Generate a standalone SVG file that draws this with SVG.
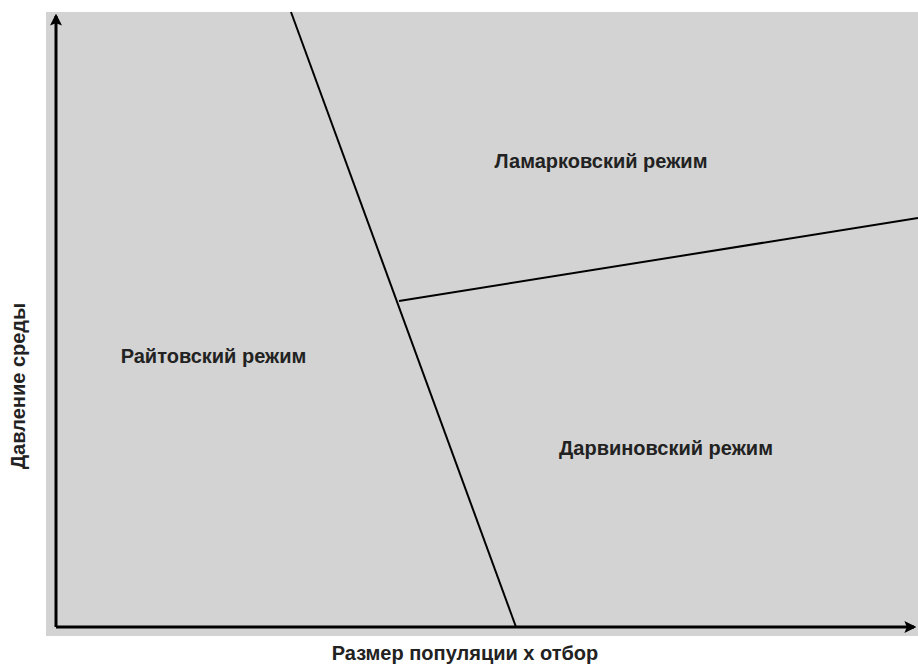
<svg xmlns="http://www.w3.org/2000/svg" width="918" height="666" viewBox="0 0 918 666">
<style>
.lbl{font-family:"Liberation Sans",Arial,sans-serif;font-weight:bold;font-size:20px;fill:#222;text-anchor:middle}
.ax{stroke:#000;stroke-width:3;fill:none}
.ln{stroke:#000;stroke-width:2;fill:none}
</style>
<defs>
<marker id="ah" viewBox="0 0 10 10" refX="8" refY="5" markerWidth="4" markerHeight="4" orient="auto" markerUnits="strokeWidth">
<path d="M0,0 L10,5 L0,10 L2,5 Z" fill="#000"/>
</marker>
</defs>
<rect x="46" y="12" width="872" height="624" fill="#d3d3d3"/>
<g id="connectors">
<path class="ax" d="M56,627 L56,16" marker-end="url(#ah)"/>
<path class="ax" d="M56,627 L914,627" marker-end="url(#ah)"/>
<path class="ln" d="M291,12 L516,627"/>
<path class="ln" d="M399,301 L918,218"/>
</g>
<g id="lamarck"><text class="lbl" x="601" y="168">Ламарковский режим</text></g>
<g id="wright"><text class="lbl" x="213.5" y="363">Райтовский режим</text></g>
<g id="darwin"><text class="lbl" x="666" y="455">Дарвиновский режим</text></g>
<g id="xlabel"><text class="lbl" x="465" y="660">Размер популяции x отбор</text></g>
<g id="ylabel"><text class="lbl" transform="translate(25,386) rotate(-90)">Давление среды</text></g>
</svg>
